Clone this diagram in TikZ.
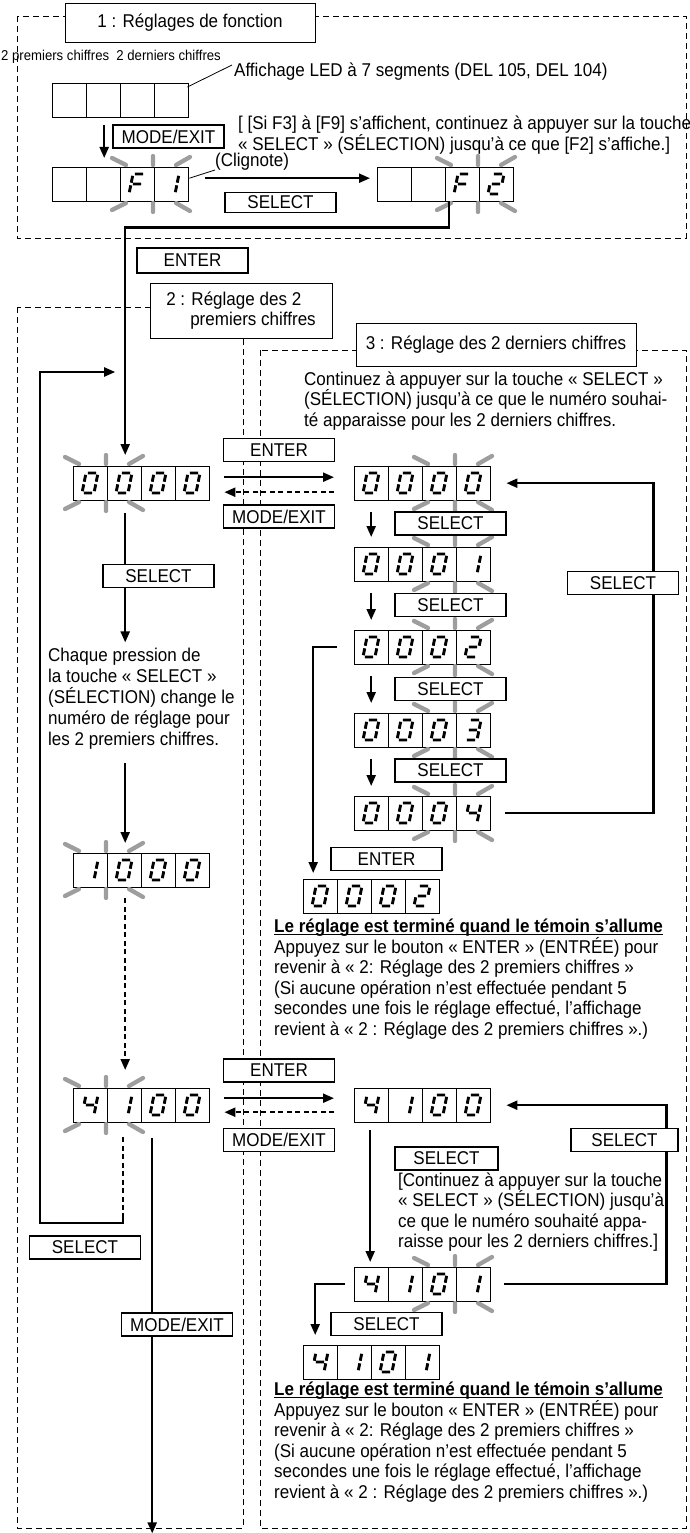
\documentclass[tikz,border=0pt]{standalone}
\usepackage{fontspec}
\setmainfont{Liberation Sans}[FakeStretch=0.92]
\usetikzlibrary{arrows.meta}

\tikzset{
  frame/.style={draw, line width=0.7pt, dash pattern=on 6pt off 4pt},
  title/.style={draw, fill=white, line width=0.8pt, inner sep=0pt},
  key/.style={draw, fill=white, line width=1.8pt, minimum width=111pt, minimum height=23pt, inner sep=0pt},
  txt/.style={inner sep=0pt, align=left},
  panel/.style={anchor=north west, minimum width=136pt, minimum height=34pt, inner sep=0pt},
  cell/.style={draw, line width=0.8pt},
  ray/.style={draw, black!38, line width=4.3pt, line cap=round},
  flow/.style={line width=2.2pt, ->},
  dflow/.style={flow, dash pattern=on 5pt off 3.5pt},
  seg/.style={draw, line width=2.9pt},
  seg a/.style={insert path={(-4.2,-10)--(4.2,-10)}},
  seg b/.style={insert path={(6,-8.2)--(6,-1.3)}},
  seg c/.style={insert path={(6,1.3)--(6,8.2)}},
  seg d/.style={insert path={(-4.2,10)--(4.2,10)}},
  seg e/.style={insert path={(-6,1.3)--(-6,8.2)}},
  seg f/.style={insert path={(-6,-8.2)--(-6,-1.3)}},
  seg g/.style={insert path={(-4.2,0)--(4.2,0)}},
  dig0/.style={seg a,seg b,seg c,seg d,seg e,seg f},
  dig1/.style={seg b,seg c},
  dig2/.style={seg a,seg b,seg g,seg e,seg d},
  dig3/.style={seg a,seg b,seg g,seg c,seg d},
  dig4/.style={seg f,seg g,seg b,seg c},
  digF/.style={seg a,seg f,seg g,seg e},
  digx/.style={}
}

% bold heading with a close underline
\newcommand{\ulbold}[1]{\setbox0\hbox{\textbf{#1}}\rlap{\rule[-2.5pt]{\wd0}{1.1pt}}\box0}
% one 7-segment character
\newcommand{\ledchar}[3]{%
  \begin{scope}[shift={(#1,#2)}, xslant=0.2]
    \draw[seg] (0,0) [dig#3];
  \end{scope}}
% blinking marks round two cells
\newcommand{\blink}[2]{%
  \begin{scope}[shift={(#1,#2)}]
    \draw[ray] (-8,-9)--(6,-2) (33,-11)--(33,-2) (56,-2)--(70,-10)
               (6,36)--(-8,43) (33,36)--(33,45) (56,36)--(70,44);
  \end{scope}}
% display: name, x, y, four digits, blinking pair (0 none, 1 left, 2 right)
\newcommand{\leds}[8]{%
  \node[panel] (#1) at (#2,#3) {};
  \foreach \k in {0,1,2,3}
    \draw[cell] (#2+34*\k,#3) rectangle ++(34,34);
  \ledchar{#2+17}{#3+17}{#4}
  \ledchar{#2+51}{#3+17}{#5}
  \ledchar{#2+85}{#3+17}{#6}
  \ledchar{#2+119}{#3+17}{#7}
  \ifcase#8\or\blink{#2}{#3}\or\blink{#2+68}{#3}\fi}

\begin{document}
\begin{tikzpicture}[x=1pt, y=-1pt, >={Triangle[length=11pt,width=9pt]},
  font=\fontsize{18.5pt}{20.5pt}\selectfont]
\useasboundingbox (0,0) rectangle (689,1533);

% dashed sections
\draw[frame] (17,16) rectangle (686,238);
\draw[frame] (17,307) rectangle (243,1528);
\draw[frame] (260,350) rectangle (686,1528);

\node[title, minimum width=250pt, minimum height=39pt] (t1) at (190,22.5) {1 : Réglages de fonction};
\node[title, minimum width=182pt, minimum height=55pt, align=left] (t2) at (241,310.5)
  {2 : Réglage des 2\\\hspace*{24pt}premiers chiffres};
\node[title, minimum width=280pt, minimum height=43pt] (t3) at (496,344.5) {3 : Réglage des 2 derniers chiffres};

% displays
\leds{led0}{52}{83}{x}{x}{x}{x}{0}
\leds{led1}{52}{167}{x}{x}{F}{1}{2}
\leds{led2}{377}{167}{x}{x}{F}{2}{2}
\leds{led3}{73}{466}{0}{0}{0}{0}{1}
\leds{led5}{354}{466}{0}{0}{0}{0}{2}
\leds{led6}{354}{547}{0}{0}{0}{1}{2}
\leds{led7}{354}{630}{0}{0}{0}{2}{2}
\leds{led8}{354}{713}{0}{0}{0}{3}{2}
\leds{led9}{354}{796}{0}{0}{0}{4}{2}
\leds{led10}{303}{879}{0}{0}{0}{2}{0}
\leds{led11}{73}{853}{1}{0}{0}{0}{1}
\leds{led12}{73}{1088}{4}{1}{0}{0}{1}
\leds{led13}{354}{1088}{4}{1}{0}{0}{0}
\leds{led14}{354}{1267}{4}{1}{0}{1}{2}
\leds{led15}{303}{1345}{4}{1}{0}{1}{0}

% texts
\node[txt, anchor=west, font=\fontsize{14.3pt}{16pt}\selectfont] (cap) at (1,57) {2 premiers chiffres\ \ 2 derniers chiffres};
\node[txt, anchor=west] (affi) at (234,72) {Affichage LED à 7 segments (DEL 105, DEL 104)};
\node[txt, anchor=west, font=\fontsize{18.5pt}{17.5pt}\selectfont] (note1) at (238,135)
  {[ [Si F3] à [F9] s’affichent, continuez à appuyer sur la touche\\« SELECT » (SÉLECTION) jusqu’à ce que [F2] s’affiche.]};
\node[txt, anchor=west] (clig) at (215,162) {(Clignote)};
\node[txt, anchor=west] (cont1) at (304,401)
  {Continuez à appuyer sur la touche « SELECT »\\(SÉLECTION) jusqu’à ce que le numéro souhai-\\té apparaisse pour les 2 derniers chiffres.};
\node[txt, anchor=west, font=\fontsize{18.5pt}{21pt}\selectfont] (chaque) at (48,699)
  {Chaque pression de\\la touche « SELECT »\\(SÉLECTION) change le\\numéro de réglage pour\\les 2 premiers chiffres.};
\node[txt, anchor=west] (fin1) at (274,979)
  {\ulbold{Le réglage est terminé quand le témoin s’allume}\\
   Appuyez sur le bouton « ENTER » (ENTRÉE) pour\\
   revenir à « 2: Réglage des 2 premiers chiffres »\\
   (Si aucune opération n’est effectuée pendant 5\\
   secondes une fois le réglage effectué, l’affichage\\
   revient à « 2 : Réglage des 2 premiers chiffres ».)};
\node[txt, anchor=west] (cont2) at (398,1212)
  {[Continuez à appuyer sur la touche\\« SELECT » (SÉLECTION) jusqu’à\\ce que le numéro souhaité appa-\\raisse pour les 2 derniers chiffres.]};
\node[txt, anchor=west] (fin2) at (274,1442)
  {\ulbold{Le réglage est terminé quand le témoin s’allume}\\
   Appuyez sur le bouton « ENTER » (ENTRÉE) pour\\
   revenir à « 2: Réglage des 2 premiers chiffres »\\
   (Si aucune opération n’est effectuée pendant 5\\
   secondes une fois le réglage effectué, l’affichage\\
   revient à « 2 : Réglage des 2 premiers chiffres ».)};

% connectors
\coordinate (loopL) at (40,1223);
\draw[line width=0.8pt] ([shift={(-1pt,-4pt)}]led0.north east) -- ([shift={(-2pt,7pt)}]affi.west);
\draw[line width=0.8pt] ([shift={(1pt,6pt)}]led1.east) -- ([yshift=-8pt]clig.west);
\draw[flow] ([shift={(-16pt,-8pt)}]led0.south) -- ([shift={(-16pt,9pt)}]led1.north);
\draw[flow] ([shift={(17pt,6pt)}]led1.east) -- ([shift={(-7pt,6pt)}]led2.west);
\draw[flow] ([xshift=4pt]led2.south) -- ++(0,26) -| ([shift={(-16pt,11pt)}]led3.north);

\draw[flow] ([shift={(15pt,6pt)}]led3.east) -- ([shift={(-20pt,6pt)}]led5.west);
\draw[dflow] ([shift={(-20pt,-9pt)}]led5.west) -- ([shift={(15pt,-9pt)}]led3.east);
\draw[flow] ([shift={(-16pt,-13pt)}]led3.south) -- ([shift={(-16pt,-142pt)}]led3.south);
\draw[flow] ([shift={(-16pt,90pt)}]led11.north) -- ([shift={(-16pt,10pt)}]led11.north);
\draw[dflow] ([shift={(-16pt,-11pt)}]led11.south) -- ([shift={(-16pt,18pt)}]led12.north);
\draw[line width=2.2pt, dash pattern=on 5pt off 3.5pt] ([shift={(-18pt,-15pt)}]led12.south) -- ++(0,76);
\draw[flow] ([shift={(-18pt,-91pt)}]led12.south) |- (loopL) |- ([shift={(-26pt,94pt)}]led3.north);
\draw[flow] ([shift={(11pt,-16pt)}]led12.south) -- ++(0,395);

\foreach \a/\b in {led5/led6, led6/led7, led7/led8, led8/led9}
  \draw[flow] ([shift={(-51pt,-12pt)}]\a.south) -- ([shift={(-51pt,10pt)}]\b.north);
\draw[flow] ([xshift=15pt]led9.east) -- ++(148,0) |- ([xshift=16pt]led5.east);
\draw[flow] ([xshift=-17pt]led7.west) -| ([shift={(-58pt,6pt)}]led10.north);

\draw[flow] ([shift={(15pt,7pt)}]led12.east) -- ([shift={(-20pt,7pt)}]led13.west);
\draw[dflow] ([shift={(-20pt,-7pt)}]led13.west) -- ([shift={(15pt,-7pt)}]led12.east);
\draw[flow] ([shift={(-52pt,-8pt)}]led13.south) -- ([shift={(-52pt,5pt)}]led14.north);
\draw[flow] ([xshift=14pt]led14.east) -- ++(162,0) |- ([xshift=16pt]led13.east);
\draw[flow] ([xshift=-9pt]led14.west) -| ([shift={(-56pt,10pt)}]led15.north);

% keys
\node[key] (mode1) at (168.5,136.5) {MODE/EXIT};
\node[key, minimum height=20pt] (sel1) at (280.5,202.5) {SELECT};
\node[key, minimum height=25pt] (ent1) at (192.5,260.5) {ENTER};
\node[key] (ent2) at (279,450) {ENTER};
\node[key] (mode2) at (279,516.5) {MODE/EXIT};
\node[key] (sel2) at (450.5,523.5) {SELECT};
\node[key] (sel3) at (158.5,576) {SELECT};
\node[key] (sel4) at (623,583) {SELECT};
\node[key] (sel5) at (450.5,605) {SELECT};
\node[key] (sel6) at (450.5,689) {SELECT};
\node[key] (sel7) at (450.5,770.5) {SELECT};
\node[key] (ent3) at (386.5,859) {ENTER};
\node[key] (ent4) at (279,1070.5) {ENTER};
\node[key] (mode3) at (279,1140) {MODE/EXIT};
\node[key, minimum width=107pt] (sel8) at (624.5,1140) {SELECT};
\node[key, minimum width=103pt] (sel9) at (446.5,1158.5) {SELECT};
\node[key] (sel10) at (85,1247.5) {SELECT};
\node[key] (mode4) at (177,1324.5) {MODE/EXIT};
\node[key] (sel11) at (386.5,1324) {SELECT};
\end{tikzpicture}
\end{document}
